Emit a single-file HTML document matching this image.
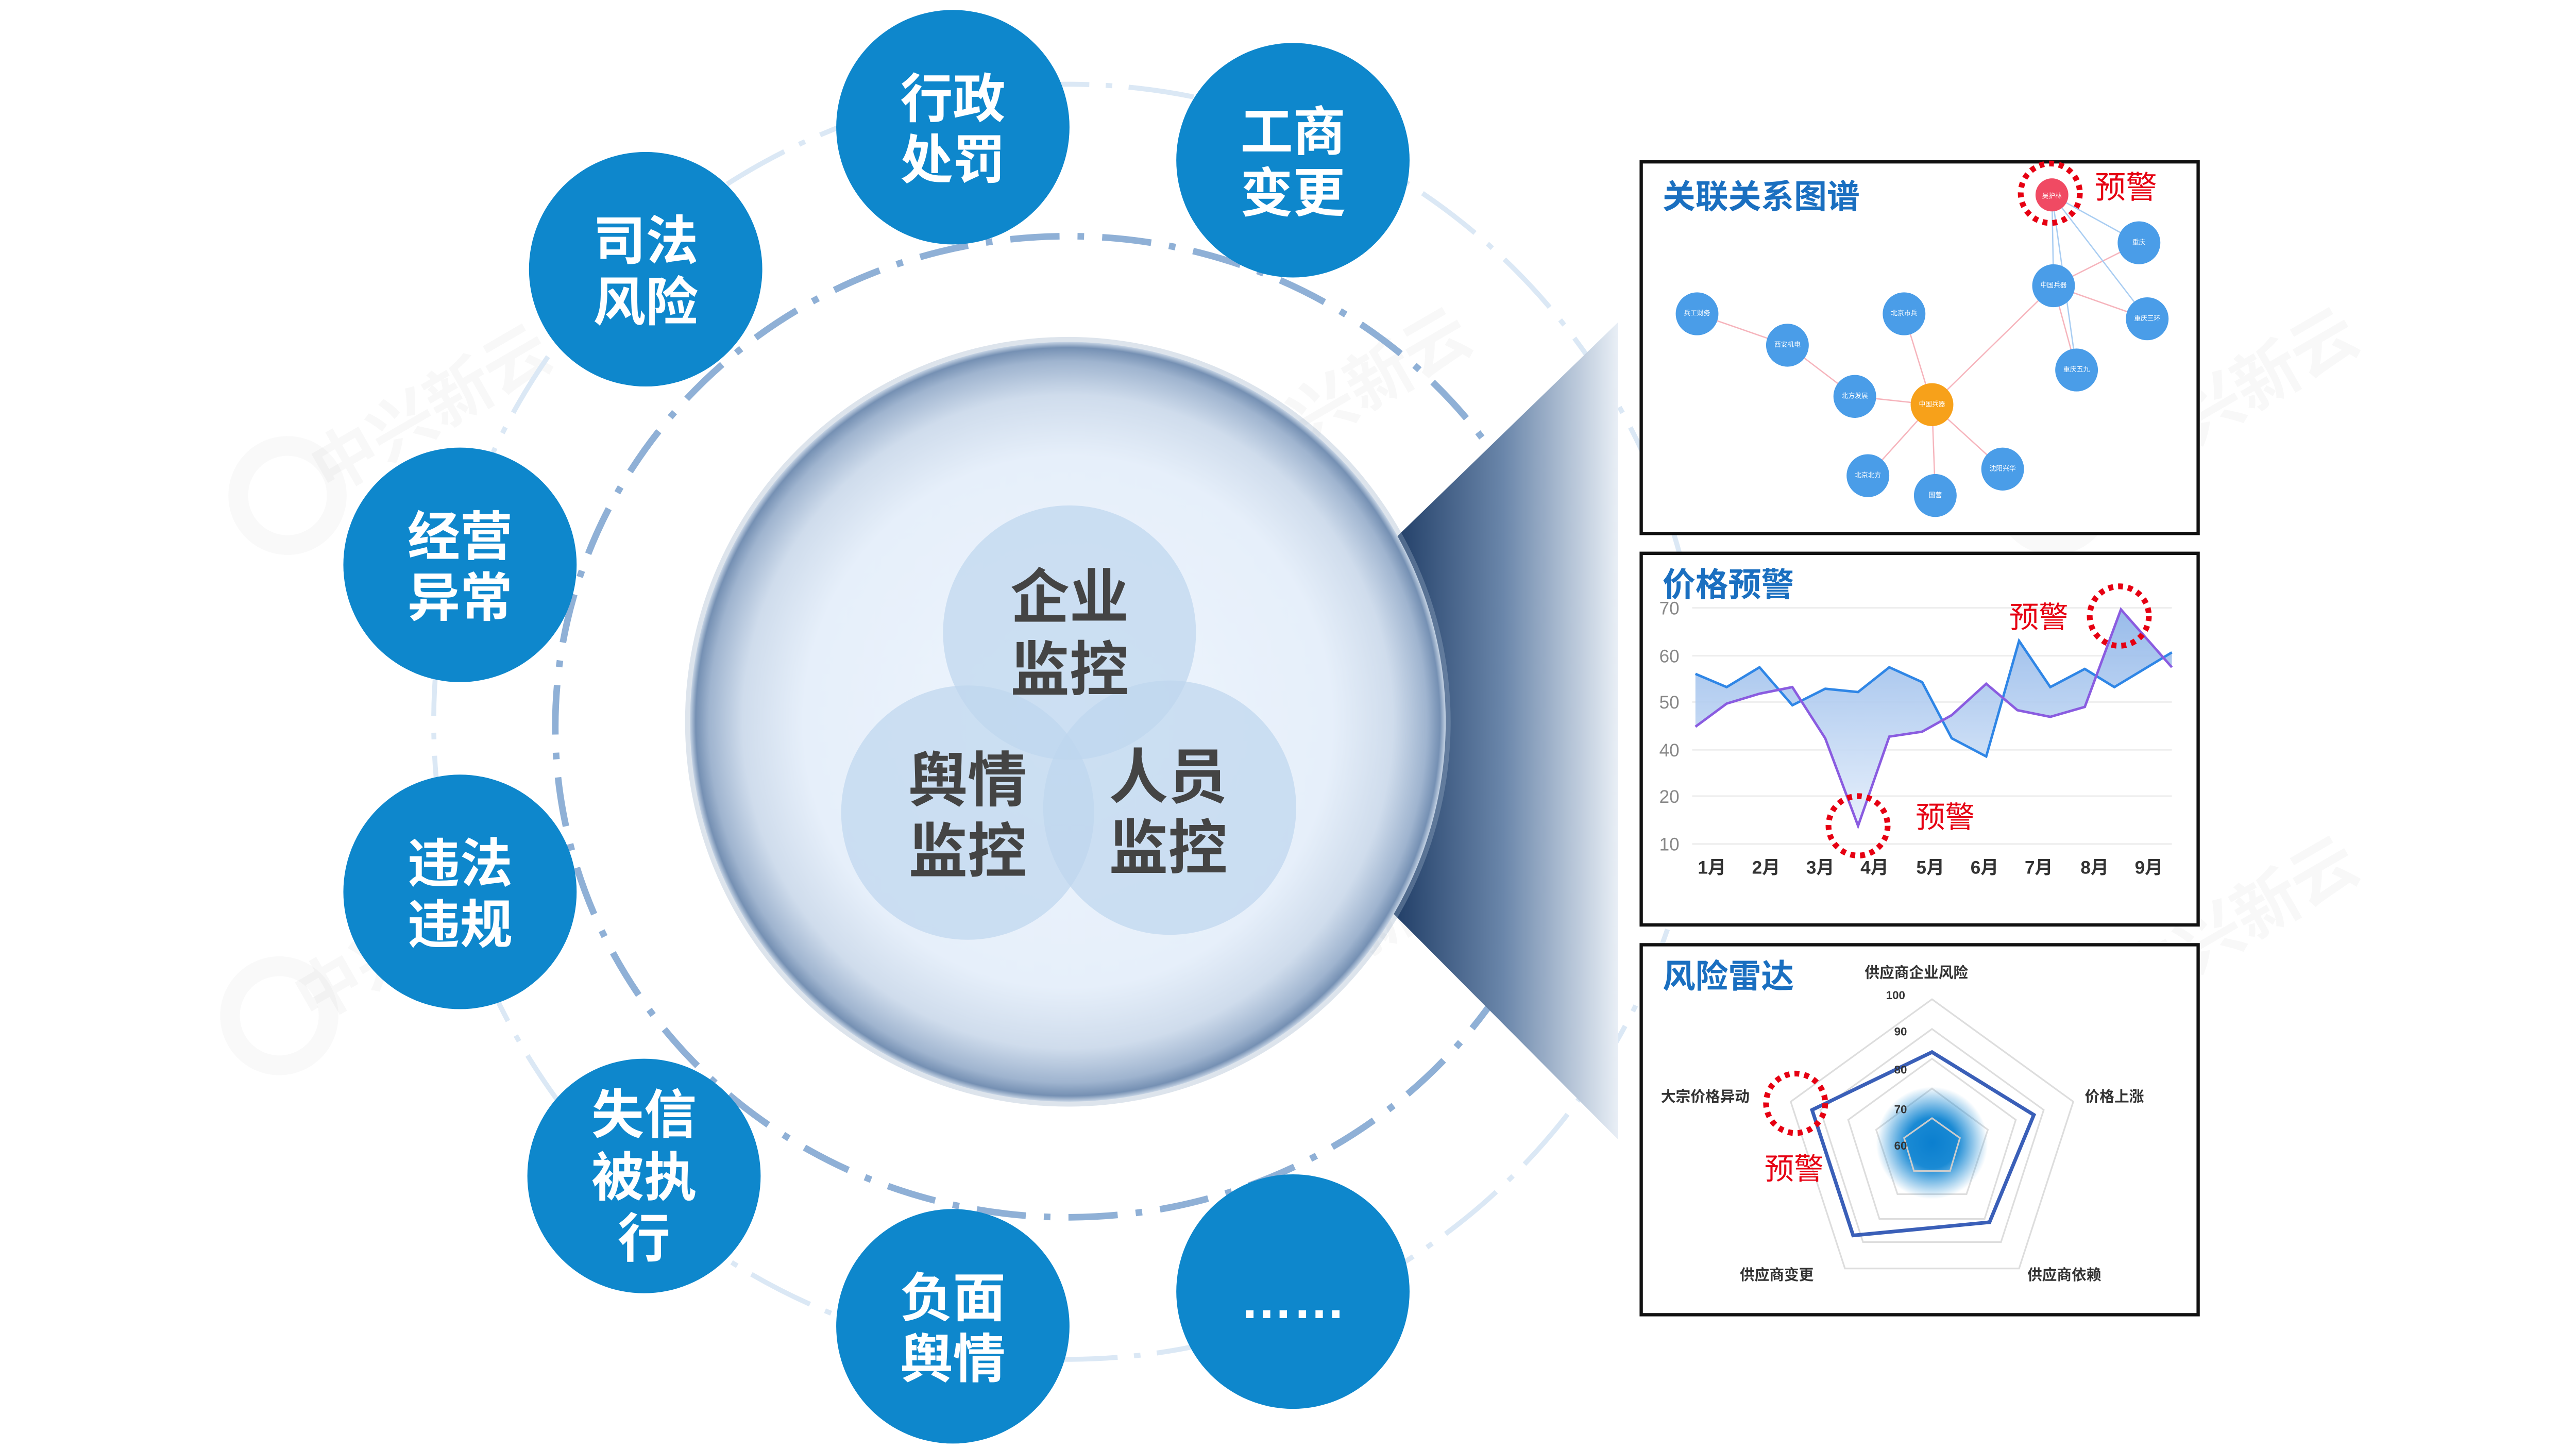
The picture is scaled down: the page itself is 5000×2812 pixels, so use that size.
<!DOCTYPE html>
<html><head><meta charset="utf-8"><style>
html,body{margin:0;padding:0;background:#fff;}
svg{display:block;}
text{font-family:"Liberation Sans","Noto Sans CJK SC",sans-serif;}
</style></head><body>
<svg width="5000" height="2812" viewBox="0 0 1568 877.3" preserveAspectRatio="none" xmlns="http://www.w3.org/2000/svg">
<defs>
<radialGradient id="big" cx="50%" cy="50%" r="50%">
<stop offset="0" stop-color="#eef5fd"/>
<stop offset="0.7" stop-color="#e6effa"/>
<stop offset="0.86" stop-color="#cfdcec"/>
<stop offset="0.95" stop-color="#9fb4cf"/>
<stop offset="0.985" stop-color="#7590b3"/>
<stop offset="1" stop-color="#c5d3e4"/>
</radialGradient>
<linearGradient id="fun" x1="0" y1="0" x2="1" y2="0">
<stop offset="0" stop-color="#1d3a63"/>
<stop offset="0.5" stop-color="#6a86aa"/>
<stop offset="1" stop-color="#e9eff6"/>
</linearGradient>
<linearGradient id="area" x1="0" y1="0" x2="0" y2="1">
<stop offset="0" stop-color="#8db4e8"/>
<stop offset="1" stop-color="#e4eefb"/>
</linearGradient>
<radialGradient id="glow">
<stop offset="0" stop-color="#0b7fcf"/>
<stop offset="0.45" stop-color="#1a8ad4"/>
<stop offset="1" stop-color="#1a8ad4" stop-opacity="0"/>
</radialGradient>
</defs>

<!-- watermarks -->
<g fill="#000" opacity="0.03" font-weight="bold">
<text x="200" y="300" font-size="40" transform="rotate(-30 200 300)">中兴新云</text>
<text x="190" y="620" font-size="40" transform="rotate(-30 190 620)">中兴新云</text>
<text x="760" y="290" font-size="40" transform="rotate(-30 760 290)">中兴新云</text>
<text x="760" y="620" font-size="40" transform="rotate(-30 760 620)">中兴新云</text>
<text x="1300" y="290" font-size="40" transform="rotate(-30 1300 290)">中兴新云</text>
<text x="1300" y="610" font-size="40" transform="rotate(-30 1300 610)">中兴新云</text>
</g>
<g fill="none" stroke="#000" stroke-opacity="0.025" stroke-width="12">
<circle cx="175" cy="300" r="30"/><circle cx="170" cy="615" r="30"/>
<circle cx="710" cy="300" r="30"/><circle cx="705" cy="615" r="30"/>
<circle cx="1250" cy="300" r="30"/><circle cx="1245" cy="615" r="30"/>
</g>

<!-- rings -->
<circle cx="650" cy="437" r="386" fill="none" stroke="#dbe8f5" stroke-width="3" stroke-dasharray="40 10 4 10"/>
<ellipse cx="650" cy="440" rx="312" ry="297" fill="none" stroke="#8fb0d6" stroke-width="4" stroke-dasharray="30 11 4 11"/>

<!-- funnel -->
<polygon points="845,330 985,195 985,690 845,550" fill="url(#fun)"/>

<!-- big circle -->
<circle cx="650" cy="437" r="233" fill="#9fb2c9" opacity="0.35"/>
<circle cx="650" cy="437" r="230" fill="url(#big)"/>
<g fill="#bed6ee" fill-opacity="0.7">
<circle cx="651" cy="383" r="77"/>
<circle cx="589" cy="492" r="77"/>
<circle cx="712" cy="489" r="77"/>
</g>
<g fill="#444" font-weight="bold" font-size="36" text-anchor="middle">
<text x="651" y="374">企业</text><text x="651" y="418">监控</text>
<text x="589" y="485">舆情</text><text x="589" y="528">监控</text>
<text x="711" y="483">人员</text><text x="711" y="526">监控</text>
</g>

<!-- small circles -->
<g fill="#0e87cc">
<circle cx="580" cy="77" r="71"/><circle cx="787" cy="97" r="71"/>
<circle cx="393" cy="163" r="71"/><circle cx="280" cy="342" r="71"/>
<circle cx="280" cy="540" r="71"/><circle cx="392" cy="712" r="71"/>
<circle cx="580" cy="803" r="71"/><circle cx="787" cy="782" r="71"/>
</g>
<g fill="#fff" font-weight="bold" font-size="32" text-anchor="middle">
<text x="580" y="71">行政</text><text x="580" y="108">处罚</text>
<text x="787" y="91">工商</text><text x="787" y="128">变更</text>
<text x="393" y="157">司法</text><text x="393" y="194">风险</text>
<text x="280" y="336">经营</text><text x="280" y="373">异常</text>
<text x="280" y="534">违法</text><text x="280" y="571">违规</text>
<text x="392" y="686">失信</text><text x="392" y="724">被执</text><text x="392" y="761">行</text>
<text x="580" y="797">负面</text><text x="580" y="834">舆情</text>
<text x="787" y="798">……</text>
</g>

<!-- panel boxes -->
<g fill="#fff" stroke="#111" stroke-width="2">
<rect x="999" y="98" width="339" height="225"/>
<rect x="999" y="335" width="339" height="225"/>
<rect x="999" y="572" width="339" height="224"/>
</g>
<g fill="#1a6fc0" font-weight="bold" font-size="20">
<text x="1012" y="126">关联关系图谱</text>
<text x="1012" y="361">价格预警</text>
<text x="1012" y="598">风险雷达</text>
</g>

<!-- graph -->
<g stroke-width="0.8" fill="none">
<g stroke="#f6b4bc">
<line x1="1176" y1="245" x2="1129" y2="240"/><line x1="1176" y1="245" x2="1159" y2="190"/>
<line x1="1176" y1="245" x2="1250" y2="173"/><line x1="1176" y1="245" x2="1137" y2="288"/>
<line x1="1176" y1="245" x2="1178" y2="300"/><line x1="1176" y1="245" x2="1219" y2="284"/>
<line x1="1129" y1="240" x2="1088" y2="209"/><line x1="1088" y1="209" x2="1033" y2="190"/>
<line x1="1250" y1="173" x2="1302" y2="147"/><line x1="1250" y1="173" x2="1307" y2="193"/>
<line x1="1250" y1="173" x2="1264" y2="224"/>
</g>
<g stroke="#a9cdf2">
<line x1="1249" y1="118" x2="1302" y2="147"/><line x1="1249" y1="118" x2="1250" y2="173"/>
<line x1="1249" y1="118" x2="1307" y2="193"/><line x1="1249" y1="118" x2="1264" y2="224"/>
</g>
</g>
<g fill="#4a9de8">
<circle cx="1302" cy="147" r="13"/><circle cx="1250" cy="173" r="13"/><circle cx="1307" cy="193" r="13"/>
<circle cx="1264" cy="224" r="13"/><circle cx="1033" cy="190" r="13"/><circle cx="1088" cy="209" r="13"/>
<circle cx="1159" cy="190" r="13"/><circle cx="1129" cy="240" r="13"/><circle cx="1137" cy="288" r="13"/>
<circle cx="1178" cy="300" r="13"/><circle cx="1219" cy="284" r="13"/>
</g>
<circle cx="1176" cy="245" r="13" fill="#f7a11a"/>
<circle cx="1249" cy="118" r="10" fill="#f04a63"/>
<g fill="#fff" font-size="4" text-anchor="middle">
<text x="1249" y="120">吴护林</text><text x="1176" y="246">中国兵器</text><text x="1302" y="148">重庆</text>
<text x="1250" y="174">中国兵器</text><text x="1307" y="194">重庆三环</text><text x="1264" y="225">重庆五九</text>
<text x="1033" y="191">兵工财务</text><text x="1088" y="210">西安机电</text><text x="1159" y="191">北京市兵</text>
<text x="1129" y="241">北方发展</text><text x="1137" y="289">北京北方</text><text x="1178" y="301">国营</text><text x="1219" y="285">沈阳兴华</text>
</g>
<circle cx="1248" cy="117" r="18" fill="none" stroke="#e60012" stroke-width="3.5" stroke-dasharray="3 3"/>
<text x="1275" y="120" fill="#e60012" font-size="19">预警</text>

<!-- line chart -->
<g stroke="#eee" stroke-width="1">
<line x1="1030" y1="368" x2="1322" y2="368"/><line x1="1030" y1="397" x2="1322" y2="397"/>
<line x1="1030" y1="425" x2="1322" y2="425"/><line x1="1030" y1="454" x2="1322" y2="454"/>
<line x1="1030" y1="482" x2="1322" y2="482"/><line x1="1030" y1="511" x2="1322" y2="511"/>
</g>
<g fill="#888" font-size="11">
<text x="1010" y="372">70</text><text x="1010" y="401">60</text><text x="1010" y="429">50</text>
<text x="1010" y="458">40</text><text x="1010" y="486">20</text><text x="1010" y="515">10</text>
</g>
<polygon fill="url(#area)" opacity="0.9" points="1032,408 1051,416 1071,404 1091,427 1111,417 1131,419 1150,404 1170,413 1188,447 1209,458 1229,388 1248,416 1269,405 1287,416 1322,395 1322,404 1291,369 1269,428 1248,434 1228,430 1209,414 1188,433 1170,443 1150,446 1131,500 1111,447 1091,416 1071,420 1051,426 1032,440"/>
<polyline fill="none" stroke="#2f86e6" stroke-width="1.5" points="1032,408 1051,416 1071,404 1091,427 1111,417 1131,419 1150,404 1170,413 1188,447 1209,458 1229,388 1248,416 1269,405 1287,416 1322,395"/>
<polyline fill="none" stroke="#8a5ce0" stroke-width="1.5" points="1032,440 1051,426 1071,420 1091,416 1111,447 1131,500 1150,446 1170,443 1188,433 1209,414 1228,430 1248,434 1269,428 1291,369 1322,404"/>
<g fill="#333" font-size="11" font-weight="bold" text-anchor="middle">
<text x="1042" y="529">1月</text><text x="1075" y="529">2月</text><text x="1108" y="529">3月</text>
<text x="1141" y="529">4月</text><text x="1175" y="529">5月</text><text x="1208" y="529">6月</text>
<text x="1241" y="529">7月</text><text x="1275" y="529">8月</text><text x="1308" y="529">9月</text>
</g>
<g fill="none" stroke="#e60012" stroke-width="3.5" stroke-dasharray="3 3">
<circle cx="1290" cy="373" r="18"/><circle cx="1131" cy="500" r="18"/>
</g>
<g fill="#e60012" font-size="18">
<text x="1223" y="380">预警</text><text x="1166" y="501">预警</text>
</g>

<!-- radar -->
<g fill="none" stroke="#ddd" stroke-width="1">
<polygon points="1176,605 1262,667 1229,768 1123,768 1090,667"/>
<polygon points="1176,623 1244,672 1218,752 1134,752 1108,672"/>
<polygon points="1176,641 1227,678 1208,738 1144,738 1125,678"/>
<polygon points="1176,659 1210,684 1197,723 1155,723 1142,684"/>
</g>
<circle cx="1176" cy="692" r="34" fill="url(#glow)"/>
<polygon points="1176,677 1193,689 1187,709 1165,709 1159,689" fill="none" stroke="#ccc" stroke-width="1"/>
<polygon points="1176,637 1238,675 1211,740 1128,748 1103,672" fill="none" stroke="#3a5fb8" stroke-width="2.2"/>
<g fill="#333" font-size="9" font-weight="bold">
<text x="1135" y="592">供应商企业风险</text>
<text x="1148" y="605" font-size="7">100</text>
<text x="1153" y="627" font-size="7">90</text>
<text x="1153" y="650" font-size="7">80</text>
<text x="1153" y="674" font-size="7">70</text>
<text x="1153" y="696" font-size="7">60</text>
<text x="1011" y="667">大宗价格异动</text>
<text x="1269" y="667">价格上涨</text>
<text x="1059" y="775">供应商变更</text>
<text x="1234" y="775">供应商依赖</text>
</g>
<circle cx="1093" cy="668" r="18" fill="none" stroke="#e60012" stroke-width="3.5" stroke-dasharray="3 3"/>
<text x="1074" y="714" fill="#e60012" font-size="18">预警</text>
</svg>
</body></html>
